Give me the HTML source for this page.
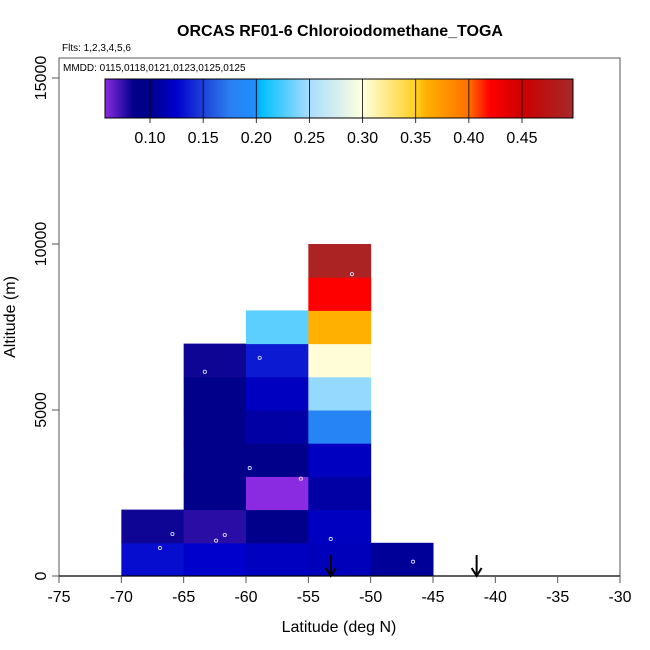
<!DOCTYPE html>
<html><head><meta charset="utf-8"><style>
body{margin:0;background:#fff}
svg{display:block;font-family:"Liberation Sans",sans-serif}
</style></head><body>
<svg id="chart" width="650" height="650" viewBox="0 0 650 650">
<rect x="0" y="0" width="650" height="650" fill="#fff"/>
<text x="340" y="36" text-anchor="middle" font-size="16" font-weight="bold">ORCAS RF01-6 Chloroiodomethane_TOGA</text>
<text x="62" y="51" font-size="10">Flts: 1,2,3,4,5,6</text>
<g id="cells"></g>
<g id="points"></g>
<g id="arrows"></g>
<rect x="59" y="58" width="561" height="518" fill="none" stroke="#555" stroke-width="1"/>
<text x="63" y="71" font-size="10">MMDD: 0115,0118,0121,0123,0125,0125</text>
<defs><linearGradient id="cbgrad" x1="0" x2="1" y1="0" y2="0"></linearGradient></defs>
<g id="colorbar"></g>
<g id="xaxis"></g>
<g id="yaxis"></g>
<text x="339" y="632" text-anchor="middle" font-size="16">Latitude (deg N)</text>
<text transform="translate(15,317) rotate(-90)" text-anchor="middle" font-size="16">Altitude (m)</text>
</svg>
<script>
const lonBins = [-70,-65,-60,-55,-50];
const altBins = [0,1000,2000,3000,4000,5000,6000,7000,8000,9000];
// values[column][row], null = empty
const colVals = [
 [0.13,0.082,null,null,null,null,null,null,null,null],
 [0.125,0.077,0.09,0.09,0.09,0.09,0.082,null,null,null],
 [0.12,0.092,0.058,0.092,0.11,0.12,0.135,0.23,null,null],
 [0.118,0.12,0.11,0.12,0.183,0.245,0.302,0.36,0.42,0.49],
 [0.105,null,null,null,null,null,null,null,null,null]
];
const ptLon = [-51.5,-63.3,-58.9,-59.7,-55.6,-65.9,-61.7,-62.4,-66.9,-53.2,-46.6];
const ptAlt = [9090,6150,6570,3250,2930,1265,1235,1065,845,1115,430];
const arrowLon = [-53.2,-41.5];
const xTicks = [-75,-70,-65,-60,-55,-50,-45,-40,-35,-30];
const yTicks = [0,5000,10000,15000];
const cbTicks = [0.10,0.15,0.20,0.25,0.30,0.35,0.40,0.45];
const cbStops = [[0.058,"#8a2be2"],[0.085,"#00008b"],[0.10,"#00008b"],[0.125,"#0000cd"],[0.15,"#1e40d8"],[0.175,"#2a7ff0"],[0.20,"#1e90ff"],[0.205,"#00bfff"],[0.25,"#a8dcff"],[0.30,"#ffffe0"],[0.35,"#ffd020"],[0.36,"#ffb000"],[0.40,"#ff7000"],[0.42,"#ff0000"],[0.45,"#cc0000"],[0.498,"#a52a2a"]];
const NS="http://www.w3.org/2000/svg";
const X=v=>59+(v+75)*561/45;
const Y=v=>576-v*(166/5000);
const CB=v=>150+(v-0.10)*(372/0.35);
function hex(c){return [1,3,5].map(i=>parseInt(c.substr(i,2),16));}
function cmap(v){
 if(v<=cbStops[0][0])return cbStops[0][1];
 for(let i=1;i<cbStops.length;i++){
  if(v<=cbStops[i][0]){const a=cbStops[i-1],b=cbStops[i];const t=(v-a[0])/(b[0]-a[0]);
   const A=hex(a[1]),B=hex(b[1]);return "rgb("+A.map((x,k)=>Math.round(x+(B[k]-x)*t)).join(",")+")";}
 }
 return cbStops[cbStops.length-1][1];
}
function mk(tag,attrs,parent){const e=document.createElementNS(NS,tag);for(const k in attrs)e.setAttribute(k,attrs[k]);parent.appendChild(e);return e;}
const cells=document.getElementById('cells');
colVals.forEach((col,i)=>col.forEach((v,j)=>{
 if(v===null)return;
 const x0=X(lonBins[i]),x1=X(lonBins[i]+5),y0=Y(altBins[j]+1000),y1=Y(altBins[j]);
 const r=mk('rect',{x:x0,y:y0,width:x1-x0+0.5,height:y1-y0+0.5,fill:cmap(v)},cells);
 
 
}));
const pts=document.getElementById('points');
ptLon.forEach((lo,i)=>{
 const c=mk('circle',{cx:X(lo),cy:Y(ptAlt[i]),r:1.6,fill:'none',stroke:'#d8d8ff','stroke-width':0.9},pts);
 
 
});
const ar=document.getElementById('arrows');
arrowLon.forEach(lo=>{
 const g=mk('g',{},ar);
 
 
 const x=X(lo);
 mk('line',{x1:x,y1:555,x2:x,y2:576,stroke:'#000','stroke-width':2},g);
 mk('polyline',{points:(x-5)+',568 '+x+',576 '+(x+5)+',568',fill:'none',stroke:'#000','stroke-width':2},g);
});
const grad=document.getElementById('cbgrad');
const lo=0.058,hi=0.498;
cbStops.forEach(s=>mk('stop',{offset:((s[0]-lo)/(hi-lo)*100)+'%','stop-color':s[1]},grad));
const cb=document.getElementById('colorbar');
const cbr=mk('rect',{x:105,y:79,width:468,height:39,fill:'url(#cbgrad)',stroke:'#000','stroke-width':1},cb);


cbTicks.forEach(t=>{
 mk('line',{x1:CB(t),y1:79,x2:CB(t),y2:123,stroke:'#000','stroke-width':0.8},cb);
 const tx=mk('text',{x:CB(t),y:143,'text-anchor':'middle','font-size':16},cb);
 tx.textContent=t.toFixed(2);
 
 
});
const xa=document.getElementById('xaxis');
mk('line',{x1:59,y1:576,x2:620,y2:576,stroke:'#000','stroke-width':1.2},xa);
xTicks.forEach(t=>{
 mk('line',{x1:X(t),y1:576,x2:X(t),y2:583,stroke:'#555','stroke-width':1},xa);
 const tx=mk('text',{x:X(t),y:602,'text-anchor':'middle','font-size':16},xa);
 tx.textContent=t;
 
 
});
const ya=document.getElementById('yaxis');
yTicks.forEach(t=>{
 mk('line',{x1:52,y1:Y(t),x2:59,y2:Y(t),stroke:'#555','stroke-width':1},ya);
 const tx=mk('text',{transform:'translate(46,'+Y(t)+') rotate(-90)','text-anchor':'middle','font-size':16},ya);
 tx.textContent=t;
 
 
});
</script>
</body></html>
